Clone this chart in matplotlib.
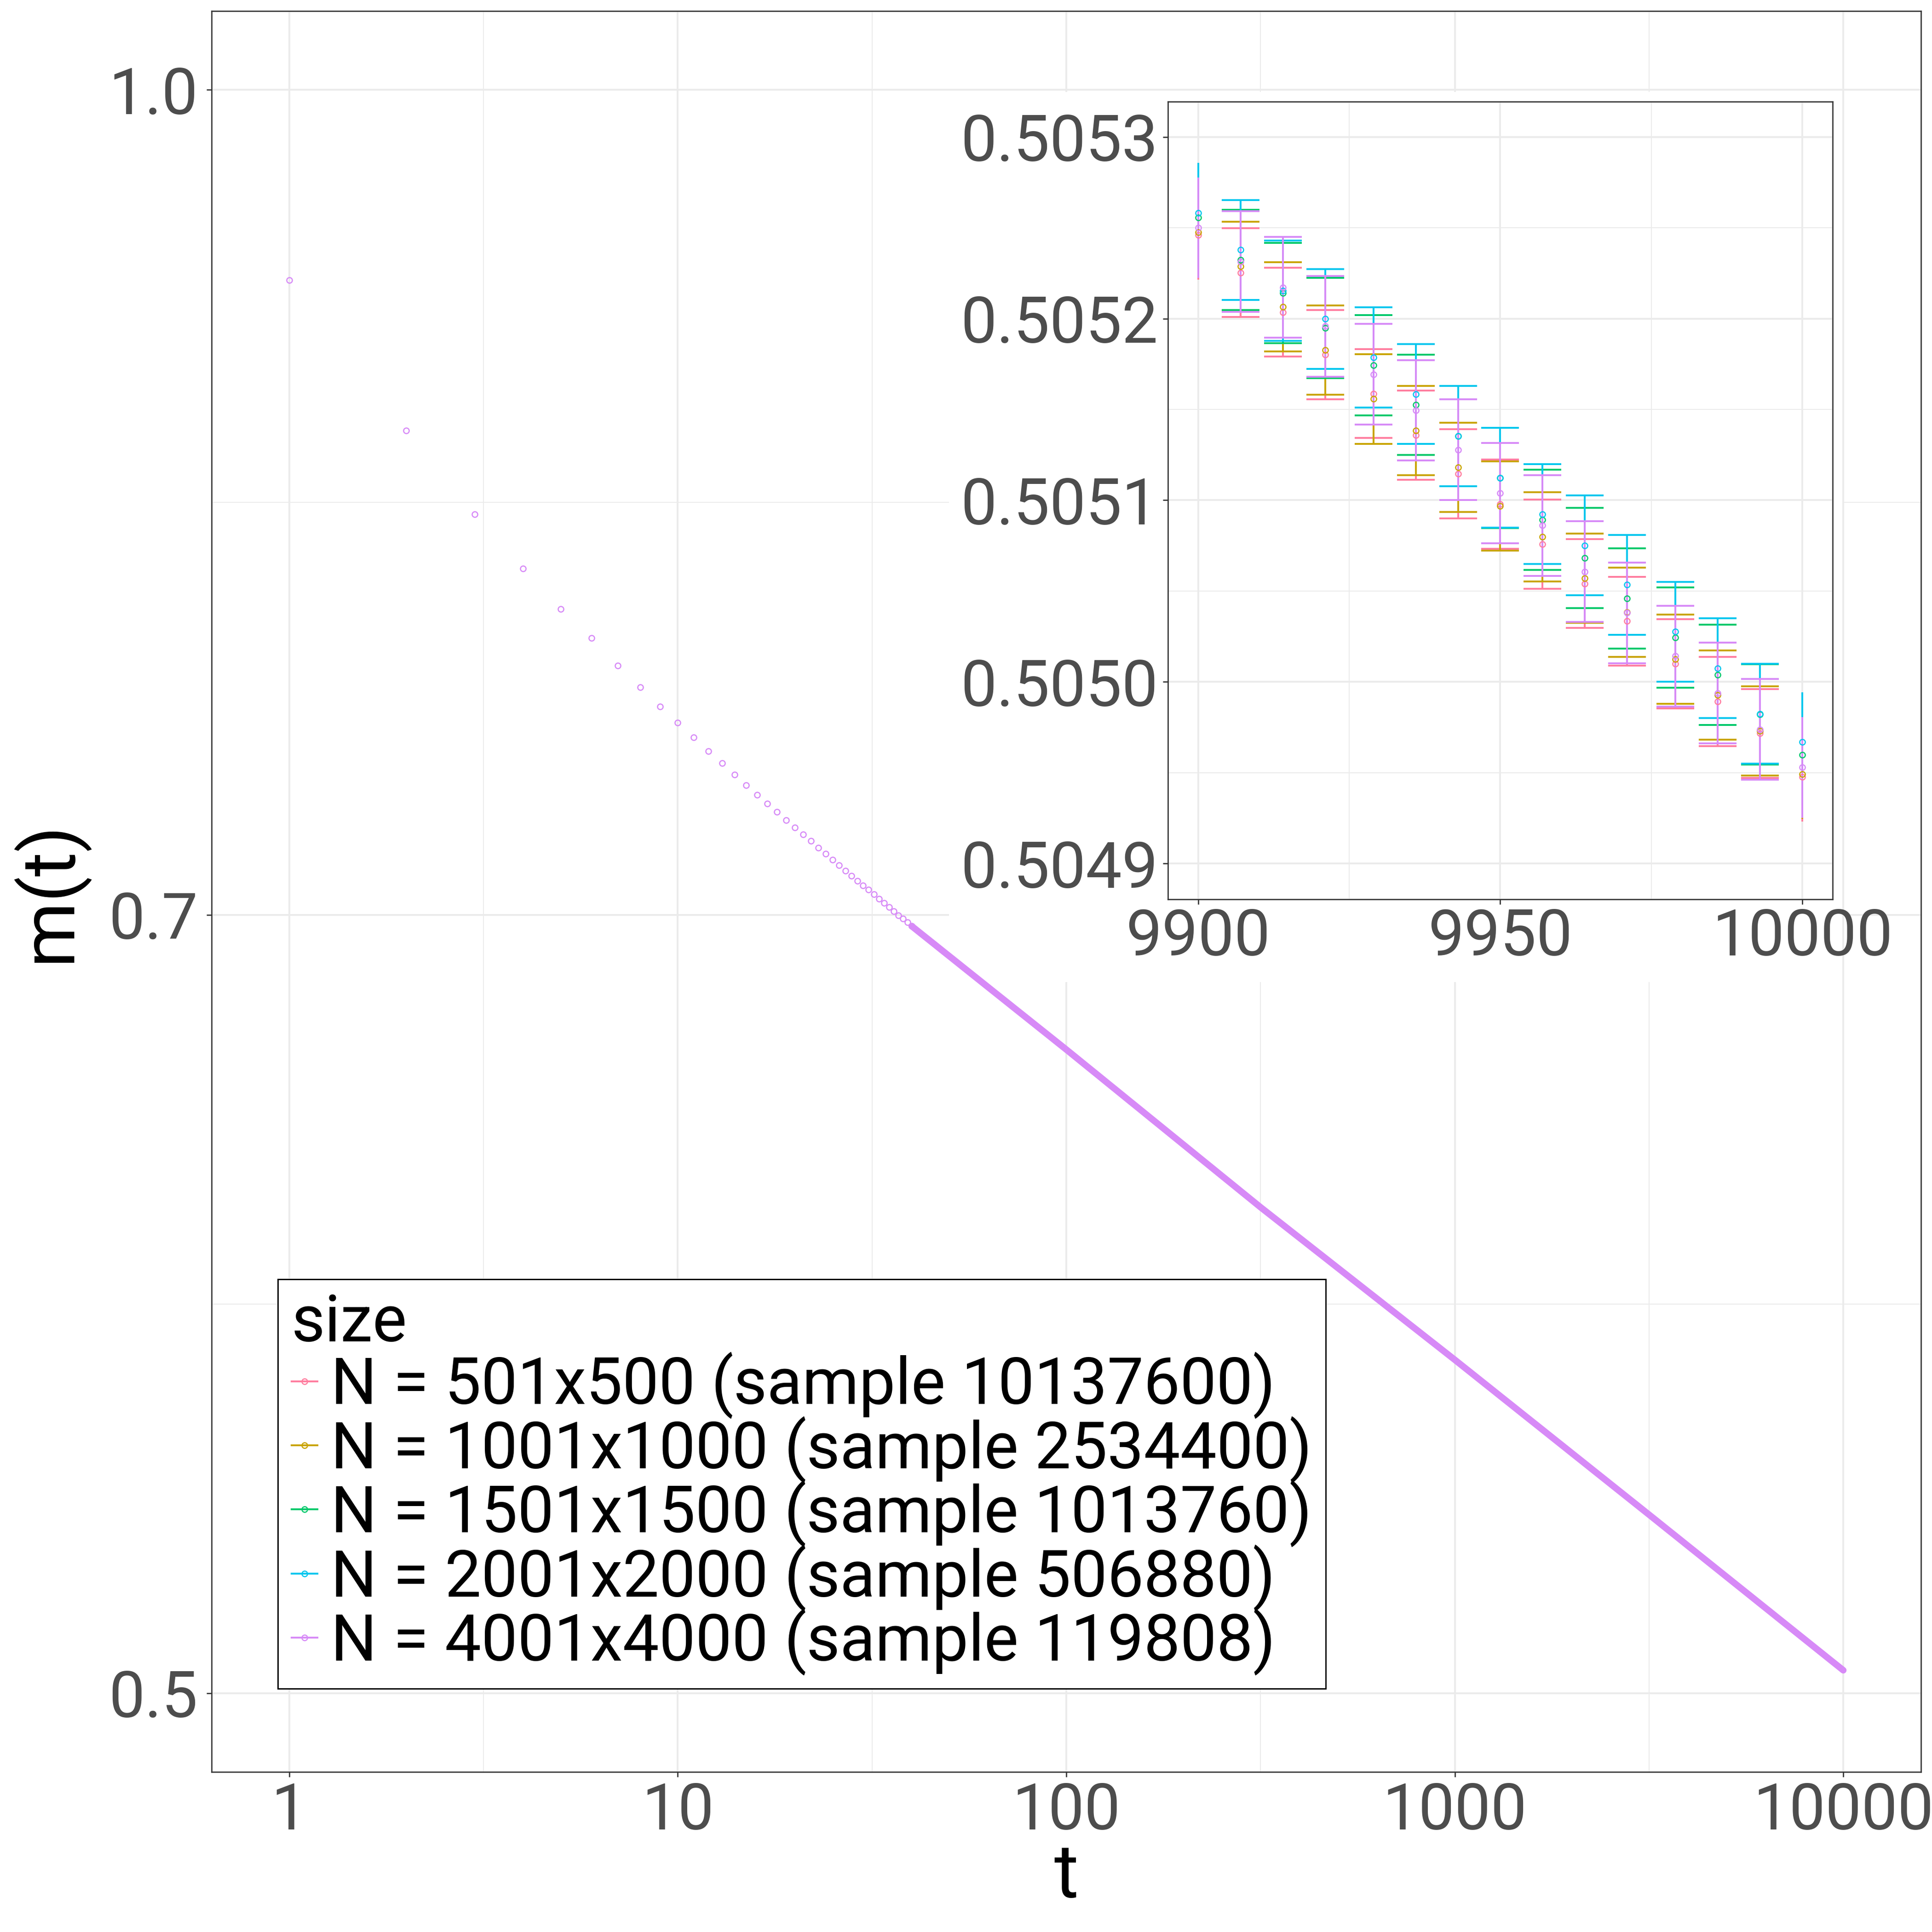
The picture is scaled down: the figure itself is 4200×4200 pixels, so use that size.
import numpy as np
import matplotlib.pyplot as plt
from matplotlib.lines import Line2D
from matplotlib.patches import Rectangle
from matplotlib.ticker import NullFormatter

plt.rcParams['font.family'] = ['Roboto', 'DejaVu Sans']

t_main = list(range(1, 41))
m_main = [0.9210, 0.8630, 0.8324, 0.8130, 0.7990, 0.7890, 0.7797, 0.7724, 0.7660, 0.7606,
          0.7558, 0.7514, 0.7474, 0.7438, 0.7404, 0.7373, 0.7345, 0.7318, 0.7293, 0.7269,
          0.7247, 0.7227, 0.7206, 0.7188, 0.7169, 0.7151, 0.7135, 0.7119, 0.7104, 0.7090,
          0.7076, 0.7062, 0.7049, 0.7036, 0.7023, 0.7011, 0.6999, 0.6988, 0.6977, 0.6966]
# a partir de t=40 los puntos se funden en una banda
t_band = [40, 63, 100, 316, 1000, 3162, 10000]
m_band = [0.6966, 0.6784, 0.6604, 0.6169, 0.5775, 0.5401, 0.50495]

sizes = ["N = 501x500 (sample 10137600)",
         "N = 1001x1000 (sample 2534400)",
         "N = 1501x1500 (sample 1013760)",
         "N = 2001x2000 (sample 506880)",
         "N = 4001x4000 (sample 119808)"]
colors = ['#FF7D9F', '#C9A400', '#00C86A', '#00C6EE', '#D78AF7']

# inset: ultimos pasos de tiempo
t_inset = [9900, 9907, 9914, 9921, 9929, 9936, 9943, 9950, 9957, 9964, 9971, 9979, 9986, 9993, 10000]
m_501 = [0.5052460, 0.5052253, 0.5052035, 0.5051801, 0.5051587, 0.5051358, 0.5051145, 0.5050978,
         0.5050758, 0.5050541, 0.5050334, 0.5050099, 0.5049892, 0.5049716, 0.5049476]
m_1001 = [0.5052474, 0.5052288, 0.5052064, 0.5051827, 0.5051557, 0.5051383, 0.5051180, 0.5050968,
          0.5050798, 0.5050571, 0.5050383, 0.5050125, 0.5049927, 0.5049729, 0.5049492]
m_1501 = [0.5052555, 0.5052324, 0.5052140, 0.5051948, 0.5051742, 0.5051524, 0.5051352, 0.5051122,
          0.5050892, 0.5050682, 0.5050459, 0.5050243, 0.5050040, 0.5049821, 0.5049597]
m_2001 = [0.5052581, 0.5052378, 0.5052153, 0.5051998, 0.5051786, 0.5051584, 0.5051353, 0.5051123,
          0.5050923, 0.5050751, 0.5050534, 0.5050276, 0.5050075, 0.5049824, 0.5049668]
m_4001 = [0.5052500, 0.5052314, 0.5052172, 0.5051957, 0.5051693, 0.5051495, 0.5051278, 0.5051039,
          0.5050861, 0.5050607, 0.5050380, 0.5050142, 0.5049938, 0.5049738, 0.5049529]
m_inset = [m_501, m_1001, m_1501, m_2001, m_4001]
# semianchura de las barras de error para cada tamano
err = [2.45e-5, 2.46e-5, 2.76e-5, 2.75e-5, 2.77e-5]

W = 4200.0
grid_c = '#EBEBEB'
axis_c = '#333333'
text_c = '#4D4D4D'

fig = plt.figure(figsize=(14, 14), dpi=300)

# panel principal
ax = fig.add_axes([460 / W, 1 - 3852 / W, (4176 - 460) / W, (3852 - 24) / W])
ax.set_xscale('log')
ax.set_yscale('log')
ax.set_xlim(10 ** -0.2, 10 ** 4.2)
ax.set_ylim(10 ** -0.31584, 10 ** 0.01481)
ax.set_xticks([1, 10, 100, 1000, 10000])
ax.set_xticklabels(['1', '10', '100', '1000', '10000'])
ax.set_xticks([10 ** 0.5, 10 ** 1.5, 10 ** 2.5, 10 ** 3.5], minor=True)
ax.set_yticks([0.5, 0.7, 1.0])
ax.set_yticklabels(['0.5', '0.7', '1.0'])
ax.set_yticks([np.sqrt(0.5 * 0.7), np.sqrt(0.7 * 1.0)], minor=True)
ax.xaxis.set_minor_formatter(NullFormatter())
ax.yaxis.set_minor_formatter(NullFormatter())
ax.tick_params(which='minor', length=0)
ax.tick_params(which='major', direction='out', length=2.75, width=0.65, color=axis_c,
               labelcolor=text_c, labelsize=33.5)
ax.tick_params(axis='y', pad=4.5)
ax.tick_params(axis='x', pad=2.0)
ax.grid(True, which='major', color=grid_c, lw=0.95)
ax.grid(True, which='minor', color=grid_c, lw=0.5)
ax.set_axisbelow(True)
for s in ax.spines.values():
    s.set_color(axis_c)
    s.set_linewidth(0.65)

# fondo blanco del inset (tapa la rejilla, no los puntos)
ax.add_patch(Rectangle((2063 / W, 1 - 2135 / W), (4005 - 2063) / W, (2135 - 200) / W,
                       transform=fig.transFigure, facecolor='white', edgecolor='none', zorder=1))

ax.plot(t_band, m_band, color=colors[4], lw=3.4, solid_capstyle='round', zorder=2)
ax.plot(t_main, m_main, ls='none', marker='o', ms=2.9, mfc='none', mec=colors[4], mew=0.6, zorder=3)

ax.set_xlabel('t', fontsize=39, color='black')
ax.xaxis.set_label_coords(0.5, -0.0389)
ax.set_ylabel('m(t)', fontsize=39, color='black')
ax.yaxis.set_label_coords(-0.0729, 0.5)

handles = [Line2D([], [], color=c, lw=0.95, marker='o', ms=2.9, mfc='none', mec=c, mew=0.6)
           for c in colors]
leg = ax.legend(handles, sizes, title='size', loc='upper left',
                bbox_to_anchor=(604 / W, 1 - 2780.5 / W), bbox_transform=fig.transFigure,
                borderaxespad=0, fontsize=33.8, title_fontsize=33.8, frameon=True,
                fancybox=False, edgecolor='black', framealpha=1, handlelength=0.4,
                handletextpad=0.21, borderpad=0.21, labelspacing=-0.045, alignment='left')
leg.get_frame().set_linewidth(0.7)
leg.set_zorder(5)

# inset
axi = fig.add_axes([2539 / W, 1 - 1955 / W, (3984 - 2539) / W, (1955 - 221) / W])
axi.set_zorder(2)
axi.set_xlim(9895, 10005)
axi.set_ylim(0.5048803, 0.5053194)

inner = slice(1, len(t_inset) - 1)
ends = [0, len(t_inset) - 1]
for m, e, c in zip(m_inset, err, colors):
    tt = np.array(t_inset)
    mm = np.array(m)
    axi.errorbar(tt[inner], mm[inner], yerr=e, fmt='none', ecolor=c, elinewidth=0.95,
                 capsize=9.8, capthick=0.95, zorder=2)
    axi.errorbar(tt[ends], mm[ends], yerr=e, fmt='none', ecolor=c, elinewidth=0.95,
                 capsize=0, zorder=2)
for m, c in zip(m_inset, colors):
    axi.plot(t_inset, m, ls='none', marker='o', ms=2.9, mfc='none', mec=c, mew=0.6, zorder=3)

axi.set_xticks([9900, 9950, 10000])
axi.set_xticklabels(['9900', '9950', '10000'])
axi.set_xticks([9925, 9975], minor=True)
yt = [0.5049, 0.5050, 0.5051, 0.5052, 0.5053]
axi.set_yticks(yt)
axi.set_yticklabels([f'{v:.4f}' for v in yt])
axi.set_yticks([0.50495, 0.50505, 0.50515, 0.50525], minor=True)
axi.xaxis.set_minor_formatter(NullFormatter())
axi.yaxis.set_minor_formatter(NullFormatter())
axi.tick_params(which='minor', length=0)
axi.tick_params(which='major', direction='out', length=2.75, width=0.65, color=axis_c,
                labelcolor=text_c, labelsize=33.5)
axi.tick_params(axis='y', pad=2.4)
axi.tick_params(axis='x', pad=1.3)
axi.grid(True, which='major', color=grid_c, lw=0.95)
axi.grid(True, which='minor', color=grid_c, lw=0.5)
axi.set_axisbelow(True)
for s in axi.spines.values():
    s.set_color(axis_c)
    s.set_linewidth(0.65)

fig.savefig('out.png', dpi=300, facecolor='white')
